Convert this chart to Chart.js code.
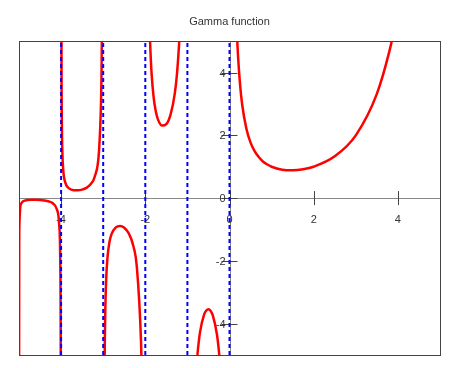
<!DOCTYPE html>
<html>
<head>
<meta charset="utf-8">
<script src="https://cdn.jsdelivr.net/npm/chart.js@4/dist/chart.umd.min.js"></script>
<style>
  html, body { margin: 0; padding: 0; background: #fff; }
  #wrap { width: 460px; height: 368px; }
</style>
</head>
<body>
<div id="wrap"><canvas id="gammaChart"></canvas></div>
<script>
// values, one pair of arrays per branch between the poles
const b0x = [-4.999, -4.995, -4.99, -4.97, -4.95, -4.9, -4.8, -4.7, -4.6, -4.5, -4.4, -4.3, -4.2, -4.1, -4.05, -4.02, -4.01, -4.005];
const b0y = [-8.35, -1.68, -0.848, -0.293, -0.182, -0.100, -0.062, -0.054, -0.054, -0.060, -0.074, -0.102, -0.164, -0.364, -0.776, -2.02, -4.11, -8.27];

const b1x = [-3.995, -3.99, -3.98, -3.97, -3.95, -3.9, -3.8, -3.7, -3.6, -3.5, -3.4, -3.3, -3.2, -3.1, -3.05, -3.04, -3.03, -3.02];
const b1y = [8.4, 4.23, 2.15, 1.46, 0.902, 0.492, 0.300, 0.252, 0.247, 0.270, 0.326, 0.439, 0.689, 1.49, 3.14, 3.97, 5.35, 8.13];

const b2x = [-2.98, -2.97, -2.96, -2.95, -2.93, -2.9, -2.85, -2.8, -2.7, -2.6, -2.5, -2.4, -2.3, -2.2, -2.1, -2.09, -2.07, -2.05];
const b2y = [-8.55, -5.78, -4.39, -3.56, -2.62, -1.92, -1.39, -1.14, -0.931, -0.889, -0.945, -1.11, -1.45, -2.21, -4.63, -5.18, -6.75, -9.58];

const b3x = [-1.92, -1.9, -1.89, -1.88, -1.85, -1.8, -1.75, -1.7, -1.6, -1.5, -1.4, -1.3, -1.25, -1.2, -1.19, -1.15];
const b3y = [6.79, 5.56, 5.12, 4.75, 3.96, 3.19, 2.76, 2.51, 2.31, 2.36, 2.66, 3.33, 3.92, 4.85, 5.10, 6.45];

const b4x = [-0.79, -0.77, -0.75, -0.7, -0.6, -0.55, -0.5, -0.45, -0.4, -0.3, -0.25, -0.22];
const b4y = [-5.52, -5.14, -4.83, -4.27, -3.70, -3.58, -3.54, -3.59, -3.72, -4.33, -4.90, -5.40];

const b5x = [0.16, 0.18, 0.2, 0.25, 0.3, 0.4, 0.5, 0.6, 0.7, 0.8, 0.9, 1, 1.25, 1.5, 1.75, 2, 2.5, 3, 3.5, 3.8, 3.9, 4];
const b5y = [5.81, 5.13, 4.59, 3.63, 2.99, 2.22, 1.77, 1.49, 1.30, 1.16, 1.07, 1.00, 0.906, 0.886, 0.919, 1.00, 1.33, 2.00, 3.32, 4.69, 5.30, 6.00];

const poles = [-4, -3, -2, -1, 0];
const xTicks = [-4, -2, 0, 2, 4];
const yTicks = [-4, -2, 0, 2, 4];
const range = [-5, 5];

const FONT = '"Liberation Sans", Arial, sans-serif';

function pts(xs, ys) {
    return xs.map(function (x, i) { return { x: x, y: ys[i] }; });
}

const datasets = [];
poles.forEach(function (p) {
    datasets.push({
        data: [{ x: p, y: range[0] }, { x: p, y: range[1] }],
        borderColor: '#0000ff',
        borderWidth: 2,
        borderDash: [4, 3],
        pointRadius: 0,
        order: 0
    });
});
[[b0x, b0y], [b1x, b1y], [b2x, b2y], [b3x, b3y], [b4x, b4y], [b5x, b5y]].forEach(function (b) {
    datasets.push({
        data: pts(b[0], b[1]),
        borderColor: '#ff0000',
        borderWidth: 2.5,
        pointRadius: 0,
        cubicInterpolationMode: 'monotone',
        order: 1
    });
});

// axes through the origin, with ticks crossing the lines, and a frame
const originAxes = {
    id: 'originAxes',
    beforeDatasetsDraw: function (chart) {
        const ctx = chart.ctx;
        const a = chart.chartArea;
        const sx = chart.scales.x, sy = chart.scales.y;
        const x0 = sx.getPixelForValue(0), y0 = sy.getPixelForValue(0);
        ctx.save();
        ctx.strokeStyle = '#888';
        ctx.lineWidth = 1;
        ctx.beginPath();
        ctx.moveTo(a.left, Math.round(y0) + 0.5);
        ctx.lineTo(a.right, Math.round(y0) + 0.5);
        ctx.moveTo(Math.round(x0) + 0.5, a.top);
        ctx.lineTo(Math.round(x0) + 0.5, a.bottom);
        ctx.stroke();

        ctx.strokeStyle = '#444';
        ctx.beginPath();
        xTicks.forEach(function (t) {
            const px = Math.round(sx.getPixelForValue(t)) + 0.5;
            ctx.moveTo(px, y0 - 7);
            ctx.lineTo(px, y0 + 7);
        });
        yTicks.forEach(function (t) {
            const py = Math.round(sy.getPixelForValue(t)) + 0.5;
            ctx.moveTo(x0 - 8, py);
            ctx.lineTo(x0 + 8, py);
        });
        ctx.stroke();

        ctx.fillStyle = '#333';
        ctx.font = '11px ' + FONT;
        ctx.textAlign = 'center';
        ctx.textBaseline = 'middle';
        xTicks.forEach(function (t) {
            ctx.fillText(String(t), sx.getPixelForValue(t), y0 + 22);
        });
        ctx.textAlign = 'right';
        yTicks.forEach(function (t) {
            ctx.fillText(String(t), x0 - 4, sy.getPixelForValue(t) + 1);
        });
        ctx.restore();
    },
    afterDraw: function (chart) {
        const ctx = chart.ctx;
        const a = chart.chartArea;
        ctx.save();
        ctx.strokeStyle = '#444';
        ctx.lineWidth = 1;
        ctx.strokeRect(Math.round(a.left) + 0.5, Math.round(a.top) + 0.5,
            Math.round(a.right - a.left), Math.round(a.bottom - a.top));
        ctx.restore();
    }
};

new Chart(document.getElementById('gammaChart').getContext('2d'), {
    type: 'line',
    data: { datasets: datasets },
    options: {
        responsive: true,
        maintainAspectRatio: false,
        animation: false,
        layout: { padding: { left: 19, right: 20, top: 0, bottom: 13 } },
        scales: {
            x: { type: 'linear', min: range[0], max: range[1], display: false },
            y: { type: 'linear', min: range[0], max: range[1], display: false }
        },
        plugins: {
            legend: { display: false },
            tooltip: { enabled: false },
            title: {
                display: true,
                text: 'Gamma function',
                color: '#333',
                font: { family: FONT, size: 11, weight: 'normal' },
                padding: { top: 15, bottom: 13 }
            }
        }
    },
    plugins: [originAxes]
});
</script>
</body>
</html>
